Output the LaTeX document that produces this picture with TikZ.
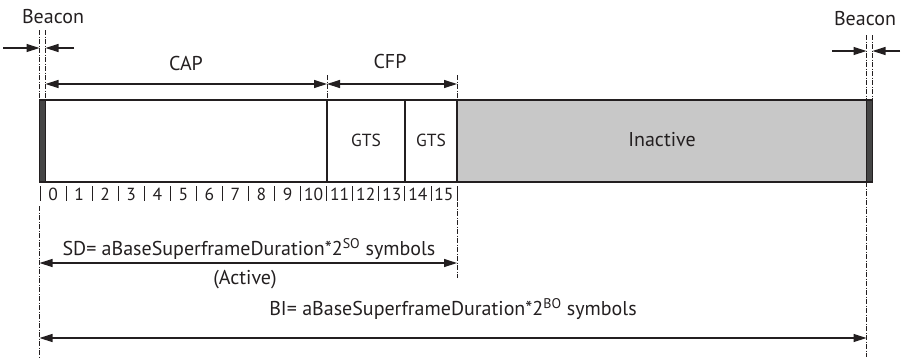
\documentclass[tikz,border=0pt]{standalone}
\usepackage{fontspec}
\setmainfont{PT Sans}
\usetikzlibrary{arrows.meta}
\definecolor{beaconfill}{HTML}{454545}
\definecolor{idlefill}{HTML}{C8C8C8}
\definecolor{ink}{HTML}{231F20}
\begin{document}
\begin{tikzpicture}[x=1pt,y=-1pt,
  lbl/.style={font=\fontsize{20}{22}\selectfont, text=ink, inner sep=0pt},
  small/.style={font=\fontsize{17.5}{20}\selectfont, text=ink, inner sep=0pt},
  frame/.style={draw=ink, line width=1.2pt},
  dim/.style={draw=ink, line width=1.2pt,
    {Triangle[length=13pt,width=8pt]}-{Triangle[length=13pt,width=8pt]}},
  onehead/.style={draw=ink, line width=1.2pt, -{Triangle[length=13pt,width=8pt]}},
  guide/.style={draw=ink, line width=0.8pt, dash pattern=on 5pt off 1.5pt on 1pt off 1.5pt},
  tick/.style={draw=ink, line width=0.8pt}]
\useasboundingbox (0,0) rectangle (901,357);

% key x positions
\def\xa{39.5}   % superframe start
\def\xb{45.5}   % end of beacon
\def\xc{327}    % CAP / CFP boundary
\def\xd{405}    % between the two GTS
\def\xe{457}    % end of active part
\def\xf{866.5}  % next beacon
\def\xg{872.5}  % end of next beacon

% superframe body
\fill[idlefill] (\xe,100) rectangle (\xf,182);
\fill[beaconfill] (\xa,100) rectangle (\xb,182);
\fill[beaconfill] (\xf,100) rectangle (\xg,182);
\draw[frame] (\xa,100) rectangle (\xg,182);
\draw[frame] (\xb,100) -- (\xb,182);
\draw[frame] (\xc,100) -- (\xc,182);
\draw[frame] (\xd,100) -- (\xd,182);
\draw[frame] (\xe,100) -- (\xe,182);
\draw[frame] (\xf,100) -- (\xf,182);

\node[small] (gts1) at (366,140) {GTS};
\node[small] (gts2) at (431,140) {GTS};
\node[lbl] (inactive) at (662,140) {Inactive};

% slot ticks and numbers
\foreach \k in {0,...,16} {
  \draw[tick] ({40+26.06*\k},186) -- ({40+26.06*\k},201);
}
\foreach \k in {0,...,15} {
  \node[small] (slot\k) at ({40+26.06*(\k+0.5)},194.5) {\k};
}

% dash-dot guide lines
\coordinate (gA1) at (\xa,30);  \coordinate (gA2) at (\xa,100);
\coordinate (gA3) at (\xa,206); \coordinate (gA4) at (\xa,357);
\coordinate (gB1) at (\xb,30);  \coordinate (gB2) at (\xb,100);
\coordinate (gC1) at (\xc,75);  \coordinate (gC2) at (\xc,100);
\coordinate (gE1) at (\xe,75);  \coordinate (gE2) at (\xe,100);
\coordinate (gE3) at (\xe,202); \coordinate (gE4) at (\xe,278);
\coordinate (gF1) at (\xf,35);  \coordinate (gF2) at (\xf,100);
\coordinate (gF3) at (\xf,182); \coordinate (gF4) at (\xf,357);
\coordinate (gG1) at (\xg,35);  \coordinate (gG2) at (\xg,100);
\draw[guide] (gA1) -- (gA2) (gA3) -- (gA4);
\draw[guide] (gB1) -- (gB2);
\draw[guide] (gC1) -- (gC2);
\draw[guide] (gE1) -- (gE2) (gE3) -- (gE4);
\draw[guide] (gF1) -- (gF2) (gF3) -- (gF4);
\draw[guide] (gG1) -- (gG2);

% beacon markers
\node[lbl] (beaconL) at (53,17) {Beacon};
\node[lbl] (beaconR) at (865,19) {Beacon};
\coordinate (bl1) at (3,48);   \coordinate (bl2) at (\xa,48);
\coordinate (bl3) at (74,48);  \coordinate (bl4) at (\xb,48);
\coordinate (br1) at (832,51); \coordinate (br2) at (\xf,51);
\coordinate (br3) at (900,51); \coordinate (br4) at (\xg,51);
\draw[onehead] (bl1) -- (bl2);
\draw[onehead] (bl3) -- (bl4);
\draw[onehead] (br1) -- (br2);
\draw[onehead] (br3) -- (br4);

% CAP and CFP spans
\node[lbl] (cap) at (186,63) {CAP};
\node[lbl] (cfp) at (390,61) {CFP};
\coordinate (capL) at (\xb,84); \coordinate (capR) at (\xc,84);
\coordinate (cfpL) at (\xc,84); \coordinate (cfpR) at (\xe,84);
\draw[dim] (capL) -- (capR);
\draw[dim] (cfpL) -- (cfpR);

% superframe duration
\coordinate (sdL) at (\xa,263); \coordinate (sdR) at (\xe,263);
\draw[dim] (sdL) -- (sdR);
\node[lbl] (sd) at (249,249) {SD= aBaseSuperframeDuration*2\textsuperscript{SO} symbols};
\node[lbl] (active) at (245,280) {(Active)};

% beacon interval
\coordinate (biL) at (\xa,338); \coordinate (biR) at (\xf,338);
\draw[dim] (biL) -- (biR);
\node[lbl] (bi) at (453,309) {BI= aBaseSuperframeDuration*2\textsuperscript{BO} symbols};
\end{tikzpicture}
\end{document}
